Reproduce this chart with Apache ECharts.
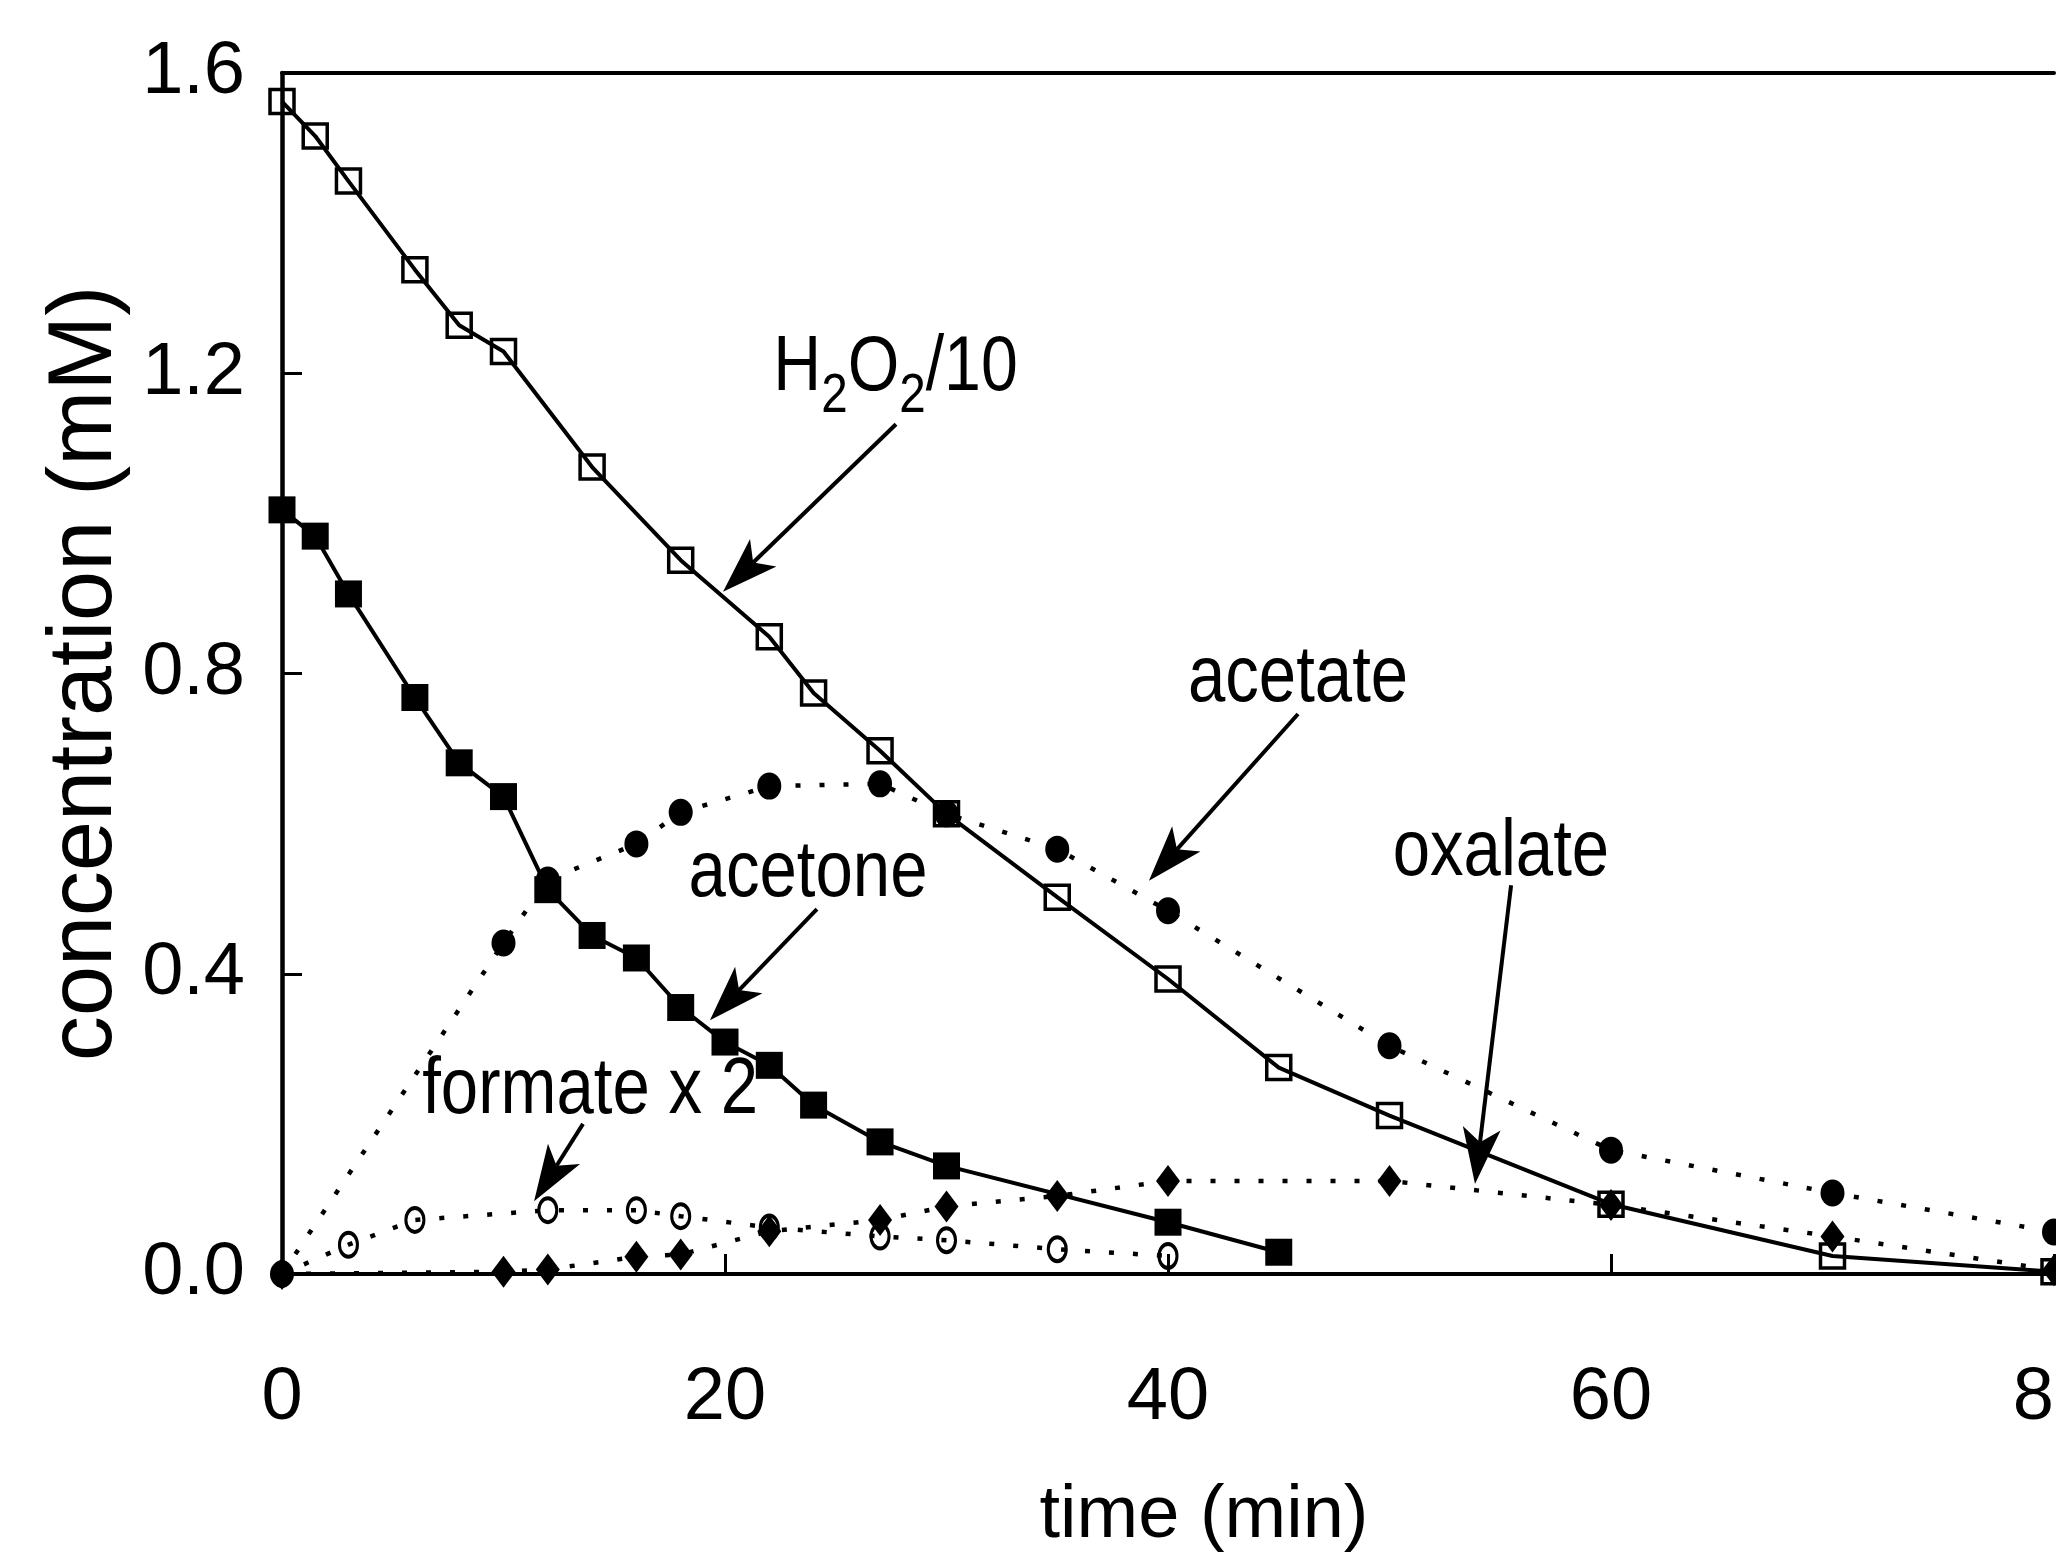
<!DOCTYPE html>
<html>
<head>
<meta charset="utf-8">
<script src="https://cdn.jsdelivr.net/npm/echarts@6.0.0/dist/echarts.min.js"></script>
<style>
html, body { margin: 0; padding: 0; background: #fff; }
#chart { width: 2056px; height: 1556px; }
</style>
</head>
<body>
<div id="chart"></div>
<script>
// time (min) / concentration (mM)
var tH2O2 = [0, 1.5, 3, 6, 8, 10, 14, 18, 22, 24, 27, 30, 35, 40, 45, 50, 60, 70, 80];
var h2o2 = [1.562, 1.516, 1.456, 1.338, 1.264, 1.229, 1.075, 0.951, 0.849, 0.774, 0.697, 0.613, 0.502, 0.393, 0.275, 0.211, 0.093, 0.024, 0.003];

var tAcetone = [0, 1.5, 3, 6, 8, 10, 12, 14, 16, 18, 20, 22, 24, 27, 30, 40, 45];
var acetone = [1.018, 0.983, 0.906, 0.768, 0.681, 0.636, 0.512, 0.451, 0.421, 0.355, 0.309, 0.278, 0.225, 0.176, 0.144, 0.069, 0.029];

var tAcetate = [0, 10, 12, 16, 18, 22, 27, 30, 35, 40, 50, 60, 70, 80];
var acetate = [0, 0.441, 0.525, 0.573, 0.615, 0.650, 0.653, 0.613, 0.566, 0.484, 0.304, 0.165, 0.108, 0.056];

var tFormate = [0, 3, 6, 12, 16, 18, 22, 27, 30, 35, 40];
var formate = [0, 0.039, 0.072, 0.085, 0.085, 0.077, 0.062, 0.050, 0.045, 0.033, 0.024];

var tOxalate = [0, 10, 12, 16, 18, 22, 27, 30, 35, 40, 50, 60, 70, 80];
var oxalate = [0, 0.003, 0.006, 0.023, 0.026, 0.057, 0.072, 0.090, 0.104, 0.124, 0.124, 0.092, 0.050, 0.005];

var xTicks = [0, 20, 40, 60, 80];

// annotations (in data units)
var labelText = ['{m|H}{s|2}{m|O}{s|2}{m|/10}', 'acetate', 'acetone', 'formate x 2', 'oxalate'];
var labelAt = [[27.70, 1.205], [45.87, 0.793], [23.75, 0.533], [13.91, 0.244], [55.03, 0.560]];
var arrowFrom = [[27.72, 1.132], [45.87, 0.746], [24.15, 0.486], [13.59, 0.200], [55.49, 0.518]];
var arrowTo = [[19.91, 0.909], [39.14, 0.524], [19.32, 0.338], [11.38, 0.097], [53.86, 0.120]];

var font = '"Liberation Sans", Arial, sans-serif';

function pairs(t, v) {
  return t.map(function (x, i) { return [x, v[i]]; });
}

var dotted = { color: '#000', width: 4.5, type: [5, 19] };
var solid = { color: '#000', width: 4, type: 'solid' };

var chart = echarts.init(document.getElementById('chart'));

var option = {
  animation: false,
  backgroundColor: '#fff',
  grid: { left: 282, right: 2, top: 73, bottom: 282, containLabel: false, outerBoundsMode: 'none' },
  xAxis: [{
    type: 'value', min: 0, max: 80, interval: 20,
    name: 'time (min)', nameLocation: 'middle', nameGap: 206,
    nameTextStyle: { color: '#000', fontSize: 74, fontFamily: font, padding: [0, 0, 0, 72] },
    axisLine: { show: true, onZero: false, lineStyle: { color: '#000', width: 4 } },
    axisTick: { show: true, inside: true, length: 20, lineStyle: { color: '#000', width: 3 } },
    axisLabel: { show: true, color: '#000', fontSize: 74, fontFamily: font, margin: 88,
      customValues: xTicks },
    splitLine: { show: false }
  }, {
    type: 'value', min: 0, max: 80, position: 'top',
    axisLine: { show: true, onZero: false, lineStyle: { color: '#000', width: 4 } },
    axisTick: { show: false }, axisLabel: { show: false }, splitLine: { show: false }
  }],
  yAxis: {
    type: 'value', min: 0, max: 1.6, interval: 0.4,
    name: 'concentration (mM)', nameLocation: 'middle', nameGap: 146,
    nameTextStyle: { color: '#000', fontSize: 90, fontFamily: font },
    axisLine: { show: true, onZero: false, lineStyle: { color: '#000', width: 4.5 } },
    axisTick: { show: true, inside: true, length: 20, lineStyle: { color: '#000', width: 3 } },
    axisLabel: { show: true, color: '#000', fontSize: 74, fontFamily: font, margin: 37,
      formatter: function (v) { return v.toFixed(1); } },
    splitLine: { show: false }
  },
  series: [{
    name: 'acetate', type: 'line', data: pairs(tAcetate, acetate),
    symbol: 'circle', symbolSize: [24, 27],
    itemStyle: { color: '#000' }, lineStyle: dotted
  }, {
    name: 'oxalate', type: 'line', data: pairs(tOxalate, oxalate),
    symbol: 'diamond', symbolSize: [24, 32],
    itemStyle: { color: '#000' }, lineStyle: dotted
  }, {
    name: 'formate x 2', type: 'line', data: pairs(tFormate, formate),
    symbol: 'circle', symbolSize: [18, 24],
    itemStyle: { color: 'rgba(0,0,0,0)', borderColor: '#000', borderWidth: 3.5 }, lineStyle: dotted
  }, {
    name: 'acetone', type: 'line', data: pairs(tAcetone, acetone),
    symbol: 'rect', symbolSize: 27,
    itemStyle: { color: '#000' }, lineStyle: solid
  }, {
    name: 'H2O2/10', type: 'line', data: pairs(tH2O2, h2o2),
    symbol: 'rect', symbolSize: 24,
    itemStyle: { color: 'rgba(0,0,0,0)', borderColor: '#000', borderWidth: 3.5 }, lineStyle: solid
  }]
};

chart.setOption(option);

// arrows and labels placed from data coordinates
var graphics = [];
arrowFrom.forEach(function (a, i) {
  var p0 = chart.convertToPixel({ gridIndex: 0 }, a);
  var p1 = chart.convertToPixel({ gridIndex: 0 }, arrowTo[i]);
  var dx = p1[0] - p0[0], dy = p1[1] - p0[1];
  var len = Math.sqrt(dx * dx + dy * dy);
  var ux = dx / len, uy = dy / len, nx = -uy, ny = ux;
  var L = 56, W = 19, N = 14;
  var base = [p1[0] - ux * L, p1[1] - uy * L];
  var notch = [p1[0] - ux * (L - N), p1[1] - uy * (L - N)];
  graphics.push({
    type: 'line', silent: true,
    shape: { x1: p0[0], y1: p0[1], x2: notch[0], y2: notch[1] },
    style: { stroke: '#000', lineWidth: 4 }
  });
  graphics.push({
    type: 'polygon', silent: true,
    shape: { points: [p1, [base[0] + nx * W, base[1] + ny * W], notch, [base[0] - nx * W, base[1] - ny * W]] },
    style: { fill: '#000' }
  });
});
labelText.forEach(function (txt, i) {
  var p = chart.convertToPixel({ gridIndex: 0 }, labelAt[i]);
  graphics.push({
    type: 'text', silent: true, x: p[0], y: p[1], scaleX: 0.85,
    style: {
      text: txt, fill: '#000', fontSize: 79, fontFamily: font,
      align: 'center', verticalAlign: 'middle',
      rich: {
        m: { fontSize: 78, fontFamily: font, lineHeight: 80, verticalAlign: 'top', fill: '#000' },
        s: { fontSize: 56, fontFamily: font, lineHeight: 56, verticalAlign: 'top', padding: [39, 0, 0, 0], fill: '#000' }
      }
    }
  });
});
chart.setOption({ graphic: graphics });
</script>
</body>
</html>
